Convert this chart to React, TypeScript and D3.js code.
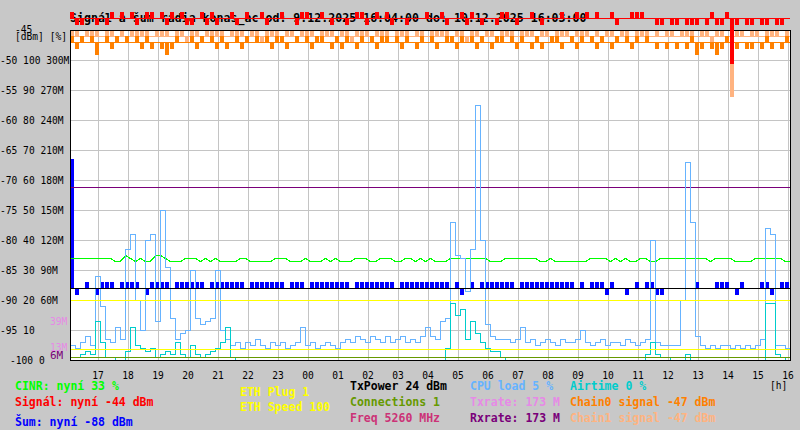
import { useEffect, useRef } from 'react';
import * as d3 from 'd3';

// 10 minute samples, 9.12.2025 16:04 -> 10.12.2025 16:04
const startTime = new Date(2025, 11, 9, 16, 4);
const endTime = new Date(2025, 11, 10, 16, 4);
const stepMinutes = 10;

const cpuLoad = [
    5, 4, 6, 8, 5, 28, 18, 7, 6, 11, 7, 37, 42, 20, 10, 40, 42, 13, 50, 31, 14, 7, 9, 10, 30, 14, 12, 13, 14, 30, 10, 7,
    5, 6, 4, 6, 5, 7, 5, 4, 6, 5, 6, 4, 5, 6, 11, 5, 6, 4, 5, 6, 5, 4, 6,
    7, 6, 8, 7, 6, 8, 7, 6, 8, 6, 7, 8, 6, 7, 6, 8, 11,
    8, 7, 13, 14, 46, 35, 34, 23, 37, 85, 40, 12, 8, 7, 7, 7, 6, 7, 11,
    6, 7, 5, 6, 7, 6, 5, 7, 6, 6, 7, 10, 6, 5, 6, 7, 5, 6, 6, 5, 7, 6, 5, 6,
    7, 40, 6, 5, 5, 5, 5, 20, 66, 46, 8, 5, 4, 5, 4, 5, 5, 4, 5, 4, 5, 4, 5, 7, 44, 42, 5, 5, 4,
];

const airtime = [
    1, 1, 2, 3, 2, 13, 6, 1, 1, 0, 0, 3, 11, 5, 4, 3, 4, 1, 2, 3, 2, 6, 2, 1, 5, 2, 1, 2, 3, 4, 6, 11, 1,
    0, 0, 0, 0, 0, 0, 0, 0, 0, 0, 0, 0, 0, 0, 0, 0, 0, 0, 0, 0, 0, 0, 0, 0, 0, 0, 0, 0, 0, 0, 0, 0, 0, 0, 0, 0, 0, 0, 0,
    0, 0, 0, 4, 19, 15, 17, 7, 13, 9, 6, 4, 3, 3, 1,
    0, 0, 0, 0, 0, 0, 0, 0, 0, 0, 0, 0, 0, 0, 0, 0, 0, 0, 0, 0, 0, 0, 0, 0, 0, 0, 0, 0,
    2, 6, 2, 1, 1, 0, 0, 0, 2, 0, 0, 0, 0, 0, 0, 0, 0, 0, 0, 0, 0, 0, 0, 0, 19, 19, 2, 1, 0,
];

const cinr = [
    34, 34, 34, 34, 34, 34, 34, 34, 34, 33, 33, 35, 34, 33, 34, 33, 33, 35, 35, 34, 33, 33, 33, 34, 34,
    34, 33, 34, 33, 34, 33, 33, 33, 33, 34, 34, 33, 33, 33, 33, 33, 34, 34, 34, 33, 33, 33, 34, 33, 33,
    33, 34, 33, 34, 33, 33, 33, 34, 34, 34, 33, 33, 34, 34, 34, 33, 33, 34, 34, 33, 34, 33,
    34, 33, 33, 33, 34, 34, 34, 34, 34, 34, 34, 34, 33, 33, 33, 34, 34, 34, 34, 34, 34, 34, 33, 33,
    34, 33, 33, 33, 33, 33, 33, 33, 34, 34, 34, 34, 33, 34, 33, 34, 33, 33, 34, 34, 33, 33,
    34, 34, 34, 34, 34, 34, 34, 34, 34, 34, 33, 34, 34, 34, 34, 33, 33, 33, 33, 34, 34, 34, 34, 34, 34, 33,
];

const noise = [
    -66.5, -89, -88, -87, -88, -89, -87, -87, -87, -88, -87, -87, -87, -87, -88, -89,
    -87, -87, -87, -87, -88, -87, -87, -87, -87, -87, -87, -88, -87, -87, -87, -87, -87, -87, -87, -88, -87, -87, -87, -87, -87, -87, -87,
    -88,
    -87, -87, -87, -88, -87, -87, -87, -87, -87, -87, -87, -87, -88, -87, -87, -87, -87, -87, -87, -87, -87, -88, -87, -87, -87, -87, -87, -87,
    -87, -87, -87, -87, -88, -87, -89, -88, -87, -88,
    -87, -87, -87, -87, -87, -87, -87, -88, -87, -87, -87, -87, -87, -87, -87, -87, -87, -87, -87,
    -88, -87, -88, -87, -87, -87, -89, -87, -88, -88, -89, -88, -87, -88, -87, -87, -89, -89,
    -88, -88, -88, -88, -88, -88, -87, -88, -88, -88, -87, -87, -87, -88, -89, -87, -88, -88, -88,
    -87, -87, -89, -88, -87, -87,
];

const signal = [
    -42, -44, -44, -43, -43, -44, -43, -44, -42, -43, -42, -43, -42, -44, -43, -42, -42, -43, -42, -44,
    -42, -43, -42, -44, -44, -43, -42, -44, -42, -44, -43, -43, -42, -44, -43, -42, -43, -43, -42, -44,
    -43, -43, -42, -43, -43, -44, -42, -42, -43, -43, -42, -43, -44, -43, -43, -44, -43, -42, -42, -44,
    -43, -42, -43, -42, -44, -43, -43, -44, -43, -43, -43, -42, -43, -43, -42, -44, -43, -43, -42, -44,
    -42, -43, -44, -43, -43, -44, -42, -42, -43, -44, -43, -43, -42, -43, -44, -43, -43, -43, -42, -43,
    -43, -42, -43, -42, -43, -42, -43, -43, -42, -44, -43, -43, -42, -42, -42, -43, -43, -44, -44, -43,
    -44, -44, -43, -44, -44, -44, -43, -44, -42, -44, -44, -42, -50.5, -44, -43, -44, -44, -43, -44, -44,
    -43, -44, -44, -43,
];

const chain0 = [
    -46, -48, -46, -47, -46, -49, -47, -46, -48, -46, -47, -46, -47, -46, -48, -46, -48, -47, -48, -49,
    -48, -46, -47, -47, -46, -48, -46, -47, -46, -48, -46, -48, -47, -46, -48, -46, -47, -46, -47, -46,
    -48, -46, -46, -48, -47, -46, -47, -46, -48, -46, -46, -47, -48, -46, -48, -46, -47, -48, -46, -47,
    -46, -48, -46, -46, -47, -46, -48, -46, -47, -48, -46, -47, -46, -48, -47, -46, -46, -48, -46, -47,
    -46, -48, -46, -47, -48, -46, -46, -47, -46, -48, -46, -47, -48, -46, -48, -47, -46, -46, -48, -47,
    -46, -48, -46, -47, -46, -48, -46, -47, -48, -46, -47, -46, -48, -46, -47, -46, -47, -48, -47, -48,
    -47, -48, -47, -48, -46, -49, -48, -47, -48, -49, -48, -46, -47, -48, -47, -48, -48, -47, -48, -46,
    -48, -47, -48, -46,
];

const chain1 = [
    -45, -45, -46, -45, -45, -45, -46, -45, -45, -47, -45, -46, -45, -45, -45, -45, -46, -45, -45, -45,
    -46, -45, -45, -47, -45, -45, -46, -45, -45, -45, -45, -46, -45, -45, -45, -46, -45, -45, -47, -45,
    -45, -45, -46, -45, -45, -46, -45, -45, -45, -46, -45, -45, -45, -46, -45, -45, -47, -45, -45, -45,
    -46, -45, -45, -45, -46, -45, -45, -45, -46, -45, -45, -46, -45, -45, -45, -45, -46, -45, -45, -47,
    -45, -45, -46, -45, -45, -46, -45, -45, -45, -46, -45, -45, -45, -46, -45, -45, -46, -45, -45, -45,
    -46, -45, -45, -45, -46, -45, -47, -45, -45, -46, -45, -45, -46, -45, -45, -45, -46, -45, -46, -45,
    -45, -46, -45, -45, -45, -46, -45, -45, -47, -45, -45, -46, -56, -45, -45, -46, -45, -45, -46, -45,
    -45, -45, -46, -45,
];

// levels the flat series sit on
const signalBase = -43;
const chain0Base = -47;
const chain1Base = -46;
const noiseBase = -88;
const txPower = 24; // drawn on the % axis
const connections = 1; // % axis
const txRate = 173; // M axis
const rxRate = 173;
const ethSpeedLevel = 60; // M axis
const ethPlugLevel = 11;
const rateMarks = [
    { label: '39M', value: 39, kind: 'tx' },
    { label: '13M', value: 13, kind: 'tx' },
    { label: '6M', value: 6, kind: 'rx' },
];

const leftTickValues = [-50, -55, -60, -65, -70, -75, -80, -85, -90, -95, -100];
const leftTickLabels = [
    '-50 100 300M',
    '-55 90 270M',
    '-60 80 240M',
    '-65 70 210M',
    '-70 60 180M',
    '-75 50 150M',
    '-80 40 120M',
    '-85 30 90M',
    '-90 20 60M',
    '-95 10',
    '-100 0',
];

const title = 'Signál a šum radia konas_ac od: 9.12.2025 16:04:00 do: 10.12.2025 16:03:00';

const legendColumns = [
    ['CINR: nyní 33 %', 'Signál: nyní -44 dBm', 'Šum: nyní -88 dBm'],
    ['ETH Plug 1', 'ETH Speed 100'],
    ['TxPower 24 dBm', 'Connections 1', 'Freq 5260 MHz'],
    ['CPU load 5 %', 'Txrate: 173 M', 'Rxrate: 173 M'],
    ['Airtime 0 %', 'Chain0 signal -47 dBm', 'Chain1 signal -47 dBm'],
];

const COLORS = {
    cinr: '#00ff00',
    signal: '#ff0000',
    noise: '#0000ff',
    eth: '#ffff00',
    txPower: '#000000',
    connections: '#669900',
    freq: '#cc3377',
    cpu: '#66b3ff',
    tx: '#e68ae6',
    rx: '#7a007a',
    airtime: '#00cccc',
    chain0: '#ff8000',
    chain1: '#ffb380',
};

const legendColors = [
    [COLORS.cinr, COLORS.signal, COLORS.noise],
    [COLORS.eth, COLORS.eth],
    [COLORS.txPower, COLORS.connections, COLORS.freq],
    [COLORS.cpu, COLORS.tx, COLORS.rx],
    [COLORS.airtime, COLORS.chain0, COLORS.chain1],
];
const legendX = [15, 240, 350, 470, 570];
const legendY = [
    [390, 406, 426],
    [396, 411],
    [390, 406, 422],
    [390, 406, 422],
    [390, 406, 422],
];

const MONO = '"DejaVu Sans Mono", "Liberation Mono", monospace';

export default function App() {
    const svgRef = useRef<SVGSVGElement | null>(null);

    useEffect(() => {
        if (!svgRef.current) {
            return;
        }
        const svg = d3.select(svgRef.current);
        svg.selectAll('*').remove();

        const left = 70;
        const right = 790;
        const top = 30;
        const bottom = 360;

        const x = d3.scaleTime().domain([startTime, endTime]).range([left, right]);
        const yDbm = d3.scaleLinear().domain([-100, -45]).range([bottom, top]);
        const yPct = d3.scaleLinear().domain([0, 110]).range([bottom, top]);
        const yMb = d3.scaleLinear().domain([0, 330]).range([bottom, top]);

        const timeAt = (i: number) => d3.timeMinute.offset(startTime, i * stepMinutes);

        svg.append('rect').attr('width', 800).attr('height', 430).attr('fill', '#c8c8c8');
        svg.append('rect')
            .attr('x', left)
            .attr('y', top)
            .attr('width', right - left)
            .attr('height', bottom - top)
            .attr('fill', '#ffffff');

        // grid
        const grid = svg.append('g').attr('stroke', '#c4c4c4').attr('stroke-width', 1);
        const hours = x.ticks(d3.timeHour.every(1)!);
        grid.selectAll('line.v')
            .data(hours)
            .join('line')
            .attr('x1', (d) => Math.round(x(d)) + 0.5)
            .attr('x2', (d) => Math.round(x(d)) + 0.5)
            .attr('y1', top)
            .attr('y2', bottom);
        grid.selectAll('line.h')
            .data(leftTickValues.slice(0, -1))
            .join('line')
            .attr('x1', left)
            .attr('x2', right)
            .attr('y1', (d) => yDbm(d) + 0.5)
            .attr('y2', (d) => yDbm(d) + 0.5);

        const hLine = (y: number, color: string) =>
            svg.append('line')
                .attr('x1', left)
                .attr('x2', right)
                .attr('y1', Math.round(y) + 0.5)
                .attr('y2', Math.round(y) + 0.5)
                .attr('stroke', color)
                .attr('stroke-width', 1);

        const deviationBars = (
            values: number[],
            base: number,
            scale: d3.ScaleLinear<number, number>,
            color: string,
            width: number
        ) => {
            svg.append('g')
                .attr('fill', color)
                .selectAll('rect')
                .data(values.map((v, i) => ({ v, i })).filter((d) => d.v !== base))
                .join('rect')
                .attr('x', (d) => Math.round(x(timeAt(d.i))))
                .attr('width', width)
                .attr('y', (d) => Math.round(Math.min(scale(d.v), scale(base))))
                .attr('height', (d) => Math.round(Math.abs(scale(d.v) - scale(base))) + 1);
        };

        const stepPath = (values: number[], scale: d3.ScaleLinear<number, number>, color: string, curve: d3.CurveFactory) => {
            const pts = values.map((v, i) => ({ t: timeAt(i), v }));
            pts.push({ t: endTime, v: values[values.length - 1] });
            const line = d3
                .line<{ t: Date; v: number }>()
                .x((d) => Math.round(x(d.t)) + 0.5)
                .y((d) => Math.round(scale(d.v)) + 0.5)
                .curve(curve);
            svg.append('path')
                .attr('d', line(pts))
                .attr('fill', 'none')
                .attr('stroke', color)
                .attr('stroke-width', 1.3);
        };

        // noise around its base
        deviationBars(noise, noiseBase, yDbm, COLORS.noise, 4);

        // rates
        hLine(yMb(txRate), COLORS.tx);
        hLine(yMb(rxRate), COLORS.rx);

        stepPath(cinr, yPct, COLORS.cinr, d3.curveLinear);
        stepPath(cpuLoad, yPct, COLORS.cpu, d3.curveStepAfter);
        stepPath(airtime, yPct, COLORS.airtime, d3.curveStepAfter);

        hLine(yPct(connections), COLORS.connections);
        hLine(yMb(ethSpeedLevel), COLORS.eth);
        hLine(yMb(ethPlugLevel), COLORS.eth);
        hLine(yPct(txPower), COLORS.txPower);

        // chains
        deviationBars(chain1, chain1Base, yDbm, COLORS.chain1, 4);
        hLine(yDbm(chain1Base), COLORS.chain1);
        deviationBars(chain0, chain0Base, yDbm, COLORS.chain0, 4);
        hLine(yDbm(chain0Base), COLORS.chain0);

        // frame
        svg.append('rect')
            .attr('x', left + 0.5)
            .attr('y', top + 0.5)
            .attr('width', right - left)
            .attr('height', bottom - top)
            .attr('fill', 'none')
            .attr('stroke', '#000000')
            .attr('stroke-width', 1);

        // title (signal is painted over it)
        svg.append('text')
            .attr('x', 70)
            .attr('y', 22)
            .attr('font-family', MONO)
            .attr('font-size', 11.6)
            .attr('font-weight', 700)
            .attr('fill', '#000000')
            .text(title);

        deviationBars(signal, signalBase, yDbm, COLORS.signal, 4);
        hLine(yDbm(signalBase), COLORS.signal);

        // left axis labels
        const labels = svg.append('g').attr('font-family', MONO).attr('font-size', 9.6).attr('fill', '#000000');
        labels.selectAll('text')
            .data(leftTickValues)
            .join('text')
            .attr('x', (d) => (d === -100 ? 10 : 0))
            .attr('y', (d) => yDbm(d) + 3.5)
            .text((_, i) => leftTickLabels[i]);
        labels.append('text').attr('x', 15).attr('y', 33).text('-45');
        labels.append('text').attr('x', 15).attr('y', 40).text('[dBm] [%]');

        svg.append('g')
            .attr('font-family', MONO)
            .selectAll('text')
            .data(rateMarks)
            .join('text')
            .attr('x', 50)
            .attr('y', (d) => yMb(d.value) + (d.kind === 'tx' ? 3.5 : 5))
            .attr('font-size', (d) => (d.kind === 'tx' ? 9.6 : 11))
            .attr('fill', (d) => (d.kind === 'tx' ? COLORS.tx : COLORS.rx))
            .text((d) => d.label);

        // hour labels
        const fmt = d3.timeFormat('%H');
        svg.append('g')
            .attr('font-family', MONO)
            .attr('font-size', 9.6)
            .attr('text-anchor', 'middle')
            .selectAll('text')
            .data(hours)
            .join('text')
            .attr('x', (d) => x(d))
            .attr('y', 379)
            .text((d) => fmt(d));
        svg.append('text')
            .attr('x', 770)
            .attr('y', 389)
            .attr('font-family', MONO)
            .attr('font-size', 9.6)
            .text('[h]');

        // legend
        const legend = svg.append('g').attr('font-family', MONO).attr('font-size', 11.5).attr('font-weight', 700);
        legendColumns.forEach((col, ci) => {
            col.forEach((label, ri) => {
                legend.append('text')
                    .attr('x', legendX[ci])
                    .attr('y', legendY[ci][ri])
                    .attr('fill', legendColors[ci][ri])
                    .text(label);
            });
        });
    }, []);

    return (
        <svg
            ref={svgRef}
            width={800}
            height={430}
            shapeRendering="crispEdges"
            style={{ position: 'absolute', left: 0, top: 0, display: 'block' }}
        />
    );
}
